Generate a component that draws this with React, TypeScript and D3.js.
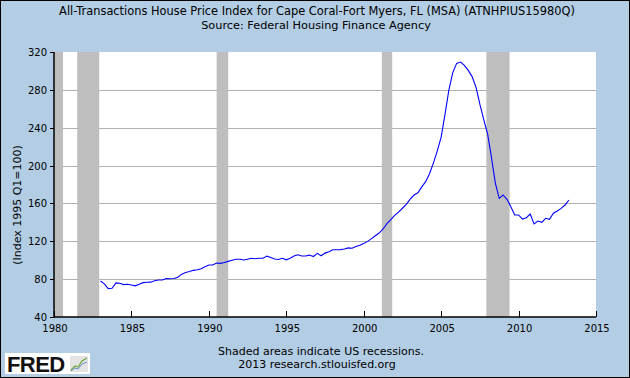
import React from 'react';
import * as d3 from 'd3';

const W = 630;
const H = 378;

const TITLE = 'All-Transactions House Price Index for Cape Coral-Fort Myers, FL (MSA) (ATNHPIUS15980Q)';
const SUBTITLE = 'Source: Federal Housing Finance Agency';
const Y_LABEL = '(Index 1995 Q1=100)';
const NOTE1 = 'Shaded areas indicate US recessions.';
const NOTE2 = '2013 research.stlouisfed.org';

// Quarterly observations starting 1983 Q1
const START_YEAR = 1983;
const hpiValues: number[] = [
  78, 75, 70, 70.3, 76, 75.7, 74.2, 74.6, 73.8, 72.9, 74.5, 76.3,
  76.7, 76.8, 78.3, 79.1, 79.1, 80.6, 80.4, 80.6, 82, 85.3, 87, 88,
  89.3, 90, 91, 93.2, 94.9, 94.9, 97, 96.7, 97.6, 98.8, 99.9, 101,
  101, 100.2, 101.1, 102, 101.5, 102, 102, 104.3, 102.8, 101.2, 100.8, 102,
  100.4, 102, 104.5, 105.7, 104.5, 104.5, 105.4, 103.9, 107.3, 104.7, 107.5, 109,
  111, 111, 111.2, 111.9, 113, 112.7, 114.4, 115.8, 117.6, 119.9, 122.8, 125.8,
  128.7, 133, 138.7, 142.8, 147.4, 150.8, 154.9, 159, 164.6, 168.9, 171.3, 177.5,
  183, 191.3, 202.6, 215.5, 230, 254, 280, 298.2, 308, 309.4, 305.8, 300.6,
  294, 282.8, 264.8, 248.5, 233.5, 208.5, 181.5, 165.4, 168.9, 164.4, 156.5, 147.8,
  147.8, 143.5, 144.9, 148.8, 138.3, 141.4, 140.1, 144.3, 143.2, 149.6, 152, 154.8,
  158.3, 163.6,
];

const yTicks = [40, 80, 120, 160, 200, 240, 280, 320];
const xTicks = [1980, 1985, 1990, 1995, 2000, 2005, 2010, 2015];
const recessionStarts = [1980.0, 1981.5, 1990.5, 2001.17, 2007.92];
const recessionEnds = [1980.58, 1982.92, 1991.25, 2001.84, 2009.42];

const FONT = '"DejaVu Sans", Verdana, sans-serif';

export default function App() {
  const left = 54, right = 596, top = 52, bottom = 317;
  const x = d3.scaleLinear().domain([1980, 2015]).range([left, right]);
  const y = d3.scaleLinear().domain([40, 320]).range([bottom, top]);
  const pts: [number, number][] = hpiValues.map((v, i) => [START_YEAR + i / 4, v]);
  const line = d3.line<[number, number]>().x(d => x(d[0])).y(d => y(d[1]));

  return (
    <svg width={W} height={H} style={{ position: 'absolute', left: 0, top: 0, display: 'block' }} fontFamily={FONT}>
      <rect x={0.5} y={0.5} width={W - 1} height={H - 1} fill="#B3CDE4" stroke="#000" strokeWidth={1} />
      <text x={317} y={15} textAnchor="middle" fontSize={11.4} fill="#000">{TITLE}</text>
      <text x={316} y={29} textAnchor="middle" fontSize={11.3} fill="#000">{SUBTITLE}</text>

      <rect x={left} y={top} width={right - left} height={bottom - top} fill="#fff" />
      {yTicks.filter(t => t > 40 && t < 320).map(t => (
        <line key={'g' + t} x1={left} x2={right} y1={Math.round(y(t)) + 0.5} y2={Math.round(y(t)) + 0.5} stroke="#B0B0B0" strokeWidth={1} />
      ))}
      {recessionStarts.map((s, i) => (
        <rect key={'r' + i} x={x(s)} y={top} width={x(recessionEnds[i]) - x(s)} height={bottom - top} fill="#BEBEBE" />
      ))}
      <path d={line(pts) || ''} fill="none" stroke="#0000FF" strokeWidth={1.1} />

      <line x1={left} x2={left} y1={top} y2={bottom + 1} stroke="#000" strokeWidth={1.5} />
      <line x1={left} x2={right} y1={bottom} y2={bottom} stroke="#000" strokeWidth={1.5} />
      {yTicks.map(t => (
        <g key={'yt' + t}>
          <line x1={left - 4} x2={left} y1={Math.round(y(t)) + 0.5} y2={Math.round(y(t)) + 0.5} stroke="#000" />
          <text x={47} y={y(t) + 4} textAnchor="end" fontSize={10} fill="#000">{t}</text>
        </g>
      ))}
      {xTicks.map(t => (
        <g key={'xt' + t}>
          <line x1={Math.round(x(t)) + 0.5} x2={Math.round(x(t)) + 0.5} y1={bottom - 6} y2={bottom} stroke="#000" />
          <text x={x(t) + 1} y={332} textAnchor="middle" fontSize={10} fill="#000">{t}</text>
        </g>
      ))}
      <text transform={`translate(21,205) rotate(-90)`} textAnchor="middle" fontSize={11} fill="#000">{Y_LABEL}</text>

      <text x={321} y={355} textAnchor="middle" fontSize={11} fill="#000">{NOTE1}</text>
      <text x={317} y={368} textAnchor="middle" fontSize={11} fill="#000">{NOTE2}</text>

      <g>
        <rect x={5} y={353} width={85} height={21} fill="#fff" />
        <text x={7} y={371.5} fontSize={22} fontWeight="bold" fontFamily="'Liberation Sans', Arial, sans-serif" fill="#111" letterSpacing={-0.6}>FRED</text>
        <rect x={70} y={356} width={18} height={16} fill="#E4E4E4" />
        <polyline points="71,370 75,366 78,367 82,361 87,358" fill="none" stroke="#6FA83C" strokeWidth={1.2} />
        <polyline points="71,371 75,368 78,369 82,364 87,362" fill="none" stroke="#6A8FC7" strokeWidth={1} />
      </g>
    </svg>
  );
}
